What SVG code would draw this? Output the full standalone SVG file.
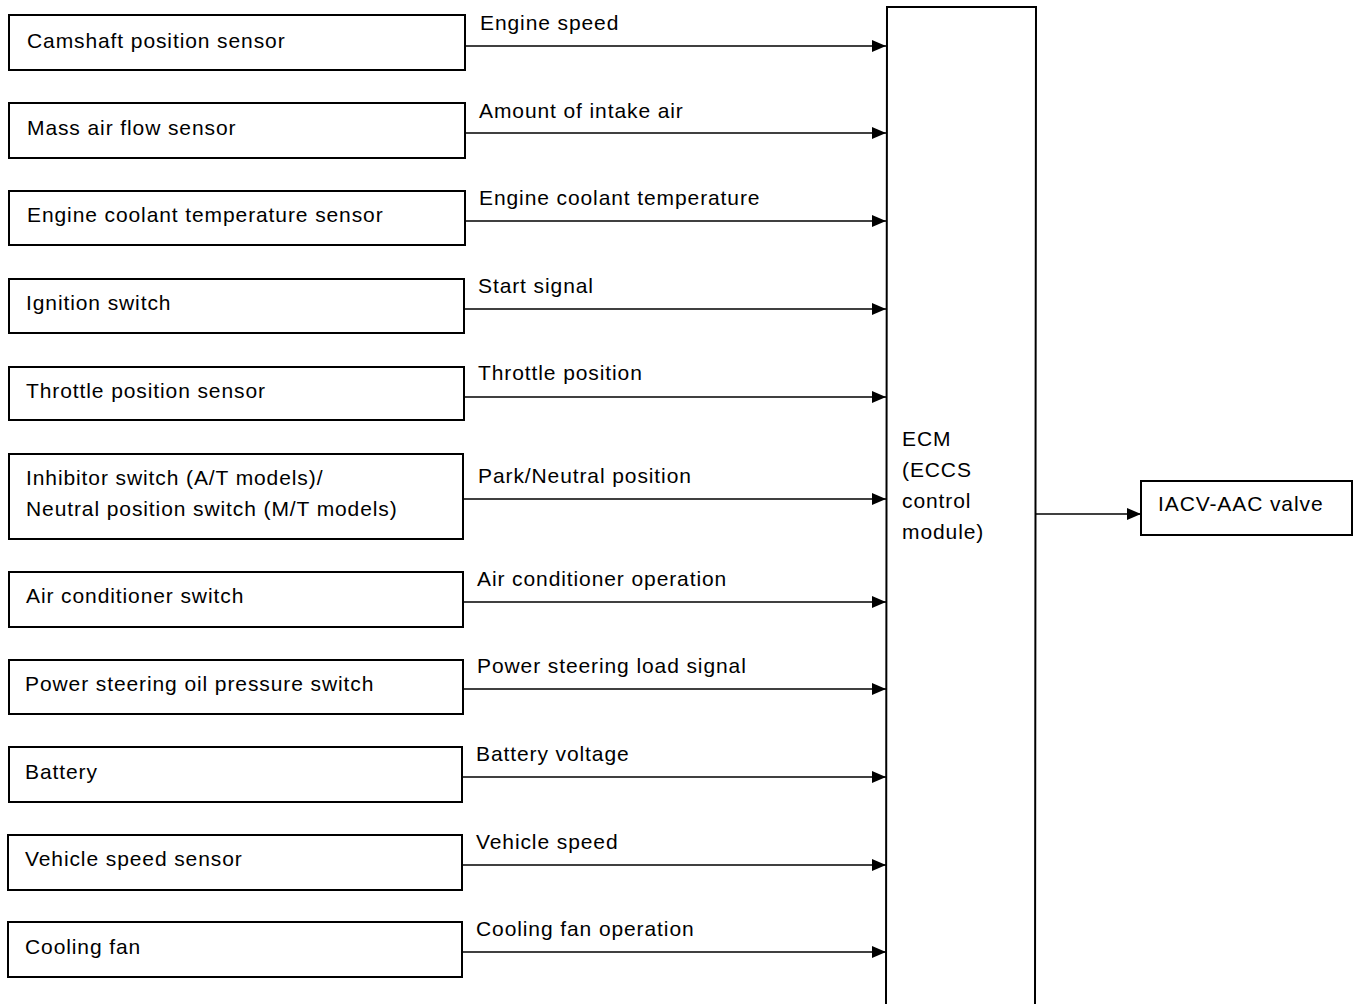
<svg xmlns="http://www.w3.org/2000/svg" width="1353" height="1004" viewBox="0 0 1353 1004">
<style>
  .box { fill: #fff; stroke: #000; stroke-width: 2; }
  .t { font-family: "Liberation Sans", Arial, sans-serif; font-size: 21px; letter-spacing: 0.9px; fill: #000; }
  .c line, .c path { stroke: #000; stroke-width: 1.6; fill: none; }
</style>
<defs>
  <marker id="ah" markerWidth="14" markerHeight="12" refX="14" refY="6" orient="auto" markerUnits="userSpaceOnUse">
    <path d="M0,0 L14,6 L0,12 Z" fill="#000"/>
  </marker>
</defs>

<g id="n1"><rect class="box" x="9" y="15" width="456" height="55"/><text class="t" x="27" y="48">Camshaft position sensor</text></g>
<g id="n2"><rect class="box" x="9" y="103" width="456" height="55"/><text class="t" x="27" y="135">Mass air flow sensor</text></g>
<g id="n3"><rect class="box" x="9" y="191" width="456" height="54"/><text class="t" x="27" y="222">Engine coolant temperature sensor</text></g>
<g id="n4"><rect class="box" x="9" y="279" width="455" height="54"/><text class="t" x="26" y="310">Ignition switch</text></g>
<g id="n5"><rect class="box" x="9" y="367" width="455" height="53"/><text class="t" x="26" y="398">Throttle position sensor</text></g>
<g id="n6"><rect class="box" x="9" y="454" width="454" height="85"/><text class="t" x="26" y="485">Inhibitor switch (A/T models)/</text><text class="t" x="26" y="516">Neutral position switch (M/T models)</text></g>
<g id="n7"><rect class="box" x="9" y="572" width="454" height="55"/><text class="t" x="26" y="603">Air conditioner switch</text></g>
<g id="n8"><rect class="box" x="9" y="660" width="454" height="54"/><text class="t" x="25" y="691">Power steering oil pressure switch</text></g>
<g id="n9"><rect class="box" x="9" y="747" width="453" height="55"/><text class="t" x="25" y="779">Battery</text></g>
<g id="n10"><rect class="box" x="8" y="835" width="454" height="55"/><text class="t" x="25" y="866">Vehicle speed sensor</text></g>
<g id="n11"><rect class="box" x="8" y="922" width="454" height="55"/><text class="t" x="25" y="954">Cooling fan</text></g>

<g id="ecm">
  <path d="M886,1004 L887,7 L1036,7 L1035,1004" fill="#fff" stroke="#000" stroke-width="2"/>
  <text class="t" x="902" y="446">ECM</text>
  <text class="t" x="902" y="477">(ECCS</text>
  <text class="t" x="902" y="508">control</text>
  <text class="t" x="902" y="539">module)</text>
</g>

<g id="iacv"><rect class="box" x="1141" y="481" width="211" height="54"/><text class="t" x="1158" y="511">IACV-AAC valve</text></g>

<g class="c" id="connectors">
  <line x1="465" y1="46" x2="886" y2="46" marker-end="url(#ah)"/>
  <line x1="465" y1="133" x2="886" y2="133" marker-end="url(#ah)"/>
  <line x1="465" y1="221" x2="886" y2="221" marker-end="url(#ah)"/>
  <line x1="464" y1="309" x2="886" y2="309" marker-end="url(#ah)"/>
  <line x1="464" y1="397" x2="886" y2="397" marker-end="url(#ah)"/>
  <line x1="463" y1="499" x2="886" y2="499" marker-end="url(#ah)"/>
  <line x1="463" y1="602" x2="886" y2="602" marker-end="url(#ah)"/>
  <line x1="463" y1="689" x2="886" y2="689" marker-end="url(#ah)"/>
  <line x1="462" y1="777" x2="886" y2="777" marker-end="url(#ah)"/>
  <line x1="462" y1="865" x2="886" y2="865" marker-end="url(#ah)"/>
  <line x1="462" y1="952" x2="886" y2="952" marker-end="url(#ah)"/>
  <line x1="1036" y1="514" x2="1141" y2="514" marker-end="url(#ah)"/>
</g>

<g id="labels">
  <text class="t" x="480" y="30">Engine speed</text>
  <text class="t" x="479" y="118">Amount of intake air</text>
  <text class="t" x="479" y="205">Engine coolant temperature</text>
  <text class="t" x="478" y="293">Start signal</text>
  <text class="t" x="478" y="380">Throttle position</text>
  <text class="t" x="478" y="483">Park/Neutral position</text>
  <text class="t" x="477" y="586">Air conditioner operation</text>
  <text class="t" x="477" y="673">Power steering load signal</text>
  <text class="t" x="476" y="761">Battery voltage</text>
  <text class="t" x="476" y="849">Vehicle speed</text>
  <text class="t" x="476" y="936">Cooling fan operation</text>
</g>
</svg>
